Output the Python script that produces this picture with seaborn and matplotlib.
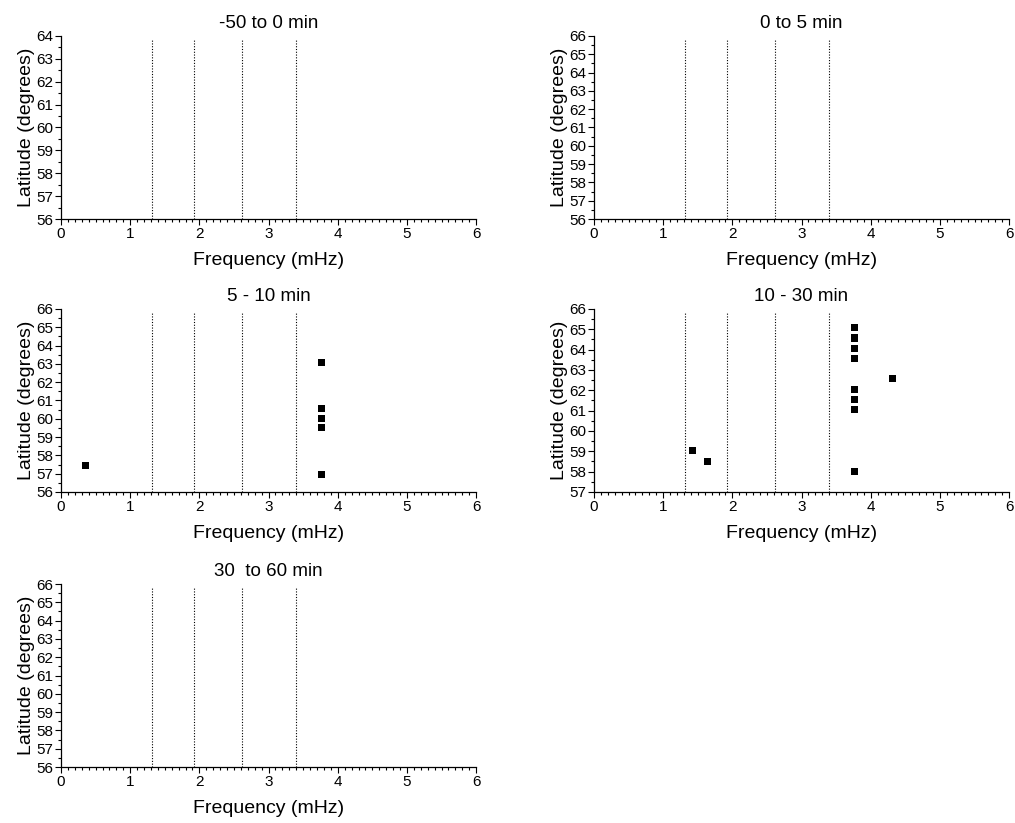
import numpy as np
import pandas as pd
import matplotlib
matplotlib.use("Agg")
import matplotlib.pyplot as plt
from matplotlib.ticker import MultipleLocator
import seaborn as sns

# --- DATA ---
panel_titles = ["-50 to 0 min", "0 to 5 min", "5 - 10 min", "10 - 30 min", "30  to 60 min"]
panel_ylims = [(56, 64), (56, 66), (56, 66), (57, 66), (56, 66)]

# band boundaries (dotted lines), mHz
band_edges = [1.31, 1.92, 2.61, 3.40]

# 5 - 10 min
freq_5_10 = [0.36, 3.77, 3.77, 3.77, 3.77, 3.77]
lat_5_10 = [57.47, 63.09, 60.55, 60.04, 59.53, 56.97]

# 10 - 30 min
freq_10_30 = [3.76, 3.76, 3.76, 3.76, 4.32, 3.76, 3.76, 3.76, 1.42, 1.64, 3.76]
lat_10_30 = [65.08, 64.57, 64.07, 63.57, 62.57, 62.05, 61.56, 61.07, 59.03, 58.51, 58.00]

panel_points = [None, None, (freq_5_10, lat_5_10), (freq_10_30, lat_10_30), None]

# --- STYLE ---
sns.set_style("ticks")
plt.rcParams['font.family'] = ['Liberation Sans', 'DejaVu Sans']
plt.rcParams['xtick.direction'] = 'out'
plt.rcParams['ytick.direction'] = 'out'
for k in ['text.color', 'axes.labelcolor', 'xtick.color', 'ytick.color', 'axes.edgecolor']:
    plt.rcParams[k] = 'black'

fig = plt.figure(figsize=(10.15, 8.23), dpi=100)

# axes rectangles in figure fraction [left, bottom, width, height]
col_left = [0.0601, 0.5852]
row_bottom = [0.7339, 0.4022, 0.068]
ax_w, ax_h = 0.409, 0.2224
slots = [(0, 0), (0, 1), (1, 0), (1, 1), (2, 0)]

for i, title in enumerate(panel_titles):
    r, c = slots[i]
    ax = fig.add_axes([col_left[c], row_bottom[r], ax_w, ax_h])

    for xv in band_edges:
        ax.axvline(xv, ymax=0.985, color='black', linestyle=(0, (1, 1.5)), linewidth=0.8)

    pts = panel_points[i]
    if pts is not None:
        df = pd.DataFrame({"freq": pts[0], "lat": pts[1]})
        sns.scatterplot(data=df, x="freq", y="lat", marker='s', s=26,
                        color='black', edgecolor='none', ax=ax, zorder=3)

    ax.set_xlim(0, 6)
    ax.set_ylim(*panel_ylims[i])
    ax.xaxis.set_major_locator(MultipleLocator(1))
    ax.xaxis.set_minor_locator(MultipleLocator(0.1))
    ax.yaxis.set_major_locator(MultipleLocator(1))
    ax.yaxis.set_minor_locator(MultipleLocator(0.5))
    ax.tick_params(which='major', length=4, width=0.8, labelsize=11, pad=1.5)
    ax.tick_params(which='minor', length=2.5, width=0.8)
    sns.despine(ax=ax)
    for sp in ax.spines.values():
        sp.set_linewidth(0.9)

    ax.set_xlabel("Frequency (mHz)", fontsize=14, labelpad=8)
    ax.set_ylabel("Latitude (degrees)", fontsize=14, labelpad=1)
    ax.set_title(title, fontsize=13.5, pad=6)

fig.savefig("out.png", dpi=100)
